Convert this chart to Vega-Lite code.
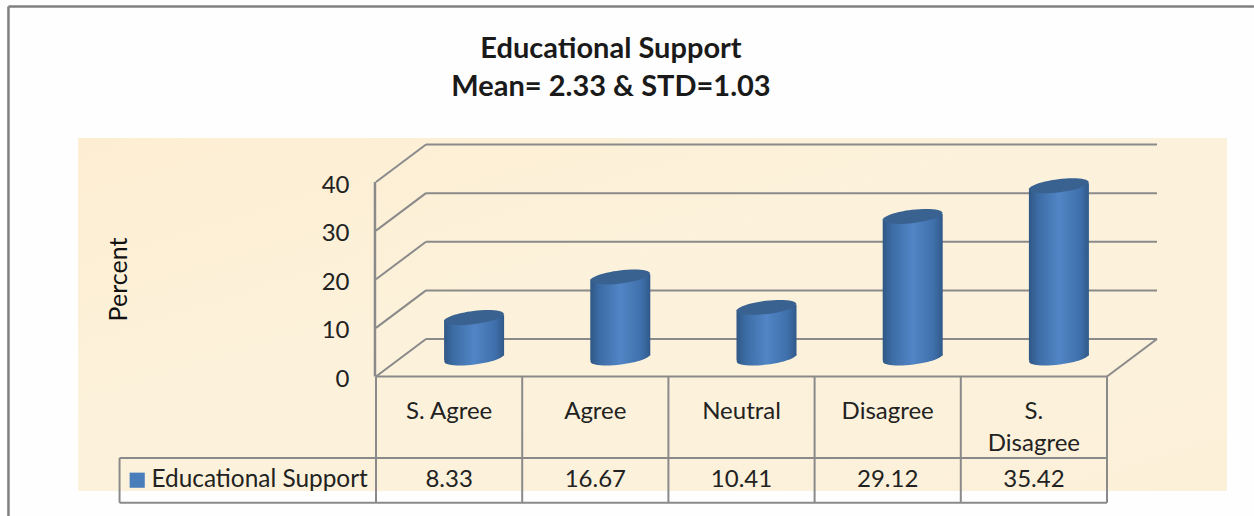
{
"$schema":"https://vega.github.io/schema/vega-lite/v6.json",
"width":1254,"height":516,"padding":0,"autosize":{"type":"none"},
"background":"#fefefe",
"view":{"stroke":null},
"title":{"text":["Educational Support","Mean= 2.33 & STD=1.03"],"font":"Lato","fontSize":29,"fontWeight":"bold","color":"#1a1a1a","lineHeight":38,"anchor":"middle","dx":-16,"offset":-131,"baseline":"bottom"},
"datasets":{
"answers":[
{"answer":"S. Agree","percent":8.33,"series":"Educational Support"},
{"answer":"Agree","percent":16.67,"series":"Educational Support"},
{"answer":"Neutral","percent":10.41,"series":"Educational Support"},
{"answer":"Disagree","percent":29.12,"series":"Educational Support"},
{"answer":"S. Disagree","percent":35.42,"series":"Educational Support"}],
"ticks":[{"tick":0},{"tick":10},{"tick":20},{"tick":30},{"tick":40}],
"cuts":[{"cut":0},{"cut":1},{"cut":2},{"cut":3},{"cut":4},{"cut":5}],
"one":[{"frame":1}]
},
"resolve":{"scale":{"x":"independent"},"axis":{"x":"independent","y":"independent"}},
"layer":[
{"data":{"name":"one"},"mark":{"type":"rect","fill":{"gradient":"linear","x1":0,"y1":0,"x2":1,"y2":1,"stops":[{"offset":0,"color":"#fdeed3"},{"offset":0.5,"color":"#fcf2dc"},{"offset":1,"color":"#fcf0d9"}]}},
 "encoding":{"x":{"datum":-2.038,"type":"quantitative","scale":{"type":"linear","domain":[0,5],"range":[376,1107]},"axis":null},"x2":{"datum":5.821},
 "y":{"datum":49.05,"type":"quantitative","scale":{"domain":[0,40],"range":[376.5,182],"nice":false,"zero":false},"axis":null},"y2":{"datum":-23.55}}},
{"data":{"name":"one"},"mark":{"type":"rule","color":"#808080","strokeWidth":2.5},
 "encoding":{"x":{"datum":-2.514,"type":"quantitative","scale":{"type":"linear","domain":[0,5],"range":[376,1107]},"axis":null},"x2":{"datum":6.005},"y":{"datum":76.07,"type":"quantitative","axis":null}}},
{"data":{"name":"one"},"mark":{"type":"rule","color":"#808080","strokeWidth":2.5},
 "encoding":{"x":{"datum":-2.514,"type":"quantitative","scale":{"type":"linear","domain":[0,5],"range":[376,1107]},"axis":null},"y":{"datum":76.07,"type":"quantitative","axis":null},"y2":{"datum":-28.69}}},
{"data":{"name":"ticks"},"mark":{"type":"rule","color":"#8a8a8a","strokeWidth":2,"yOffset":-37.5},
 "encoding":{"x":{"datum":0.342,"type":"quantitative","scale":{"type":"linear","domain":[0,5],"range":[376,1107]},"axis":null},"x2":{"datum":5.342},
 "y":{"field":"tick","type":"quantitative","axis":{"values":[0,10,20,30,40],"orient":"left","offset":-358,"zindex":1,"labelPadding":9,"labelOffset":3,"ticks":false,"domain":false,"grid":false,"labelFont":"Lato","labelFontSize":24,"labelColor":"#222222","title":"Percent","titleFont":"Lato","titleFontSize":25,"titleFontWeight":"normal","titleColor":"#111111","titleX":-227,"titleY":279,"titleAngle":-90}}}},
{"data":{"name":"one"},"mark":{"type":"rule","color":"#8a8a8a","strokeWidth":2},
 "encoding":{"x":{"datum":0,"type":"quantitative","scale":{"type":"linear","domain":[0,5],"range":[376,1107]},"axis":null},"x2":{"datum":0.342},"y":{"datum":0,"type":"quantitative","axis":null},"y2":{"datum":7.71}}},
{"data":{"name":"one"},"mark":{"type":"rule","color":"#8a8a8a","strokeWidth":2},
 "encoding":{"x":{"datum":0,"type":"quantitative","scale":{"type":"linear","domain":[0,5],"range":[376,1107]},"axis":null},"x2":{"datum":0.342},"y":{"datum":10,"type":"quantitative","axis":null},"y2":{"datum":17.71}}},
{"data":{"name":"one"},"mark":{"type":"rule","color":"#8a8a8a","strokeWidth":2},
 "encoding":{"x":{"datum":0,"type":"quantitative","scale":{"type":"linear","domain":[0,5],"range":[376,1107]},"axis":null},"x2":{"datum":0.342},"y":{"datum":20,"type":"quantitative","axis":null},"y2":{"datum":27.71}}},
{"data":{"name":"one"},"mark":{"type":"rule","color":"#8a8a8a","strokeWidth":2},
 "encoding":{"x":{"datum":0,"type":"quantitative","scale":{"type":"linear","domain":[0,5],"range":[376,1107]},"axis":null},"x2":{"datum":0.342},"y":{"datum":30,"type":"quantitative","axis":null},"y2":{"datum":37.71}}},
{"data":{"name":"one"},"mark":{"type":"rule","color":"#8a8a8a","strokeWidth":2},
 "encoding":{"x":{"datum":0,"type":"quantitative","scale":{"type":"linear","domain":[0,5],"range":[376,1107]},"axis":null},"x2":{"datum":0.342},"y":{"datum":40,"type":"quantitative","axis":null},"y2":{"datum":47.71}}},
{"data":{"name":"one"},"mark":{"type":"rule","color":"#8a8a8a","strokeWidth":2},
 "encoding":{"x":{"datum":5,"type":"quantitative","scale":{"type":"linear","domain":[0,5],"range":[376,1107]},"axis":null},"x2":{"datum":5.342},"y":{"datum":0,"type":"quantitative","axis":null},"y2":{"datum":7.71}}},
{"data":{"name":"one"},"mark":{"type":"rule","color":"#8a8a8a","strokeWidth":2.5},
 "encoding":{"x":{"datum":-0.007,"type":"quantitative","scale":{"type":"linear","domain":[0,5],"range":[376,1107]},"axis":null},"y":{"datum":0,"type":"quantitative","axis":null},"y2":{"datum":40}}},
{"data":{"name":"one"},"mark":{"type":"rule","color":"#8a8a8a","strokeWidth":2},
 "encoding":{"x":{"datum":0,"type":"quantitative","scale":{"type":"linear","domain":[0,5],"range":[376,1107]},"axis":null},"x2":{"datum":5},"y":{"datum":0,"type":"quantitative","axis":null}}},
{"data":{"name":"one"},"mark":{"type":"rule","color":"#8a8a8a","strokeWidth":2},
 "encoding":{"x":{"datum":-1.754,"type":"quantitative","scale":{"type":"linear","domain":[0,5],"range":[376,1107]},"axis":null},"x2":{"datum":5},"y":{"datum":-16.76,"type":"quantitative","axis":null}}},
{"data":{"name":"one"},"mark":{"type":"rule","color":"#8a8a8a","strokeWidth":2},
 "encoding":{"x":{"datum":-1.754,"type":"quantitative","scale":{"type":"linear","domain":[0,5],"range":[376,1107]},"axis":null},"x2":{"datum":5},"y":{"datum":-25.95,"type":"quantitative","axis":null}}},
{"data":{"name":"one"},"mark":{"type":"rule","color":"#8a8a8a","strokeWidth":2},
 "encoding":{"x":{"datum":-1.754,"type":"quantitative","scale":{"type":"linear","domain":[0,5],"range":[376,1107]},"axis":null},"y":{"datum":-16.76,"type":"quantitative","axis":null},"y2":{"datum":-25.95}}},
{"data":{"name":"cuts"},"mark":{"type":"rule","color":"#8a8a8a","strokeWidth":2},
 "encoding":{"x":{"field":"cut","type":"quantitative","scale":{"type":"linear","domain":[0,5],"range":[376,1107]},"axis":null},"y":{"datum":0,"type":"quantitative","axis":null},"y2":{"datum":-25.95}}},
{"data":{"name":"answers"},"mark":{"type":"text","font":"Lato","fontSize":24,"color":"#222222","baseline":"middle"},
 "encoding":{"x":{"field":"answer","type":"nominal","sort":null,"scale":{"type":"band","domain":["S. Agree","Agree","Neutral","Disagree","S. Disagree"],"range":[376,1107],"paddingInner":0,"paddingOuter":0},
 "axis":{"orient":"bottom","offset":-139.5,"zindex":1,"title":null,"ticks":false,"domain":false,"grid":false,"labelAngle":0,"labelPadding":23,"labelBaseline":"top","labelFont":"Lato","labelFontSize":24,"labelColor":"#222222","labelLineHeight":32,"labelExpr":"datum.label == 'S. Disagree' ? ['S.', 'Disagree'] : datum.label"}},
 "y":{"datum":-21.3,"type":"quantitative","axis":null},"text":{"field":"percent","type":"quantitative","format":".2f"}}},
{"data":{"name":"answers"},"mark":{"type":"point","filled":true,"opacity":1,"size":3600,"xOffset":25,"yOffset":-18.5,"shape":"M-.9925,.1219C-1.0073,.0013,-.575,-.1511,-.0268,-.2184C.5214,-.2857,.9777,-.2425,.9925,-.1219C1.0073,-.0013,.575,.1511,.0268,.2184C-.5214,.2857,-.9777,.2425,-.9925,.1219Z","fill":{"gradient":"linear","x1":0,"y1":0,"x2":1,"y2":0,"stops":[{"offset":0,"color":"#2f5785"},{"offset":0.15,"color":"#3c6ca4"},{"offset":0.5,"color":"#5285c6"},{"offset":0.85,"color":"#3f70ab"},{"offset":1,"color":"#31598a"}]}},
 "encoding":{"x":{"field":"answer","type":"nominal","sort":null,"scale":{"type":"band","domain":["S. Agree","Agree","Neutral","Disagree","S. Disagree"],"range":[376,1107],"paddingInner":0,"paddingOuter":0},"axis":null},"y":{"datum":0,"type":"quantitative","axis":null}}},
{"data":{"name":"answers"},"mark":{"type":"bar","width":40,"xOffset":25,"yOffset":-16.1,"y2Offset":-20.9},
 "encoding":{"x":{"field":"answer","type":"nominal","sort":null,"scale":{"type":"band","domain":["S. Agree","Agree","Neutral","Disagree","S. Disagree"],"range":[376,1107],"paddingInner":0,"paddingOuter":0},"axis":null},
 "y":{"field":"percent","type":"quantitative","stack":null,"axis":null},"y2":{"datum":0},
 "color":{"field":"series","type":"nominal","scale":{"range":["#4a7ebb"]},"legend":{"orient":"none","legendX":125,"legendY":468,"title":null,"symbolType":"square","symbolSize":230,"labelFont":"Lato","labelFontSize":24.4,"labelOffset":2,"labelColor":"#222222","labelLimit":300,"symbolStrokeWidth":0}}}},
{"data":{"name":"answers"},"mark":{"type":"bar","width":20,"xOffset":5,"yOffset":-16.1,"y2Offset":-16.1,"fill":{"gradient":"linear","x1":0,"y1":0,"x2":1,"y2":0,"stops":[{"offset":0,"color":"#2f5785"},{"offset":0.45,"color":"#3c6ca4"},{"offset":1,"color":"#4779b6"}]}},
 "encoding":{"x":{"field":"answer","type":"nominal","sort":null,"scale":{"type":"band","domain":["S. Agree","Agree","Neutral","Disagree","S. Disagree"],"range":[376,1107],"paddingInner":0,"paddingOuter":0},"axis":null},
 "y":{"field":"percent","type":"quantitative","stack":null,"axis":null},"y2":{"datum":0}}},
{"data":{"name":"answers"},"mark":{"type":"bar","width":20,"xOffset":25,"yOffset":-18.5,"y2Offset":-18.5,"fill":{"gradient":"linear","x1":0,"y1":0,"x2":1,"y2":0,"stops":[{"offset":0,"color":"#4779b6"},{"offset":0.5,"color":"#5285c6"},{"offset":1,"color":"#497bb9"}]}},
 "encoding":{"x":{"field":"answer","type":"nominal","sort":null,"scale":{"type":"band","domain":["S. Agree","Agree","Neutral","Disagree","S. Disagree"],"range":[376,1107],"paddingInner":0,"paddingOuter":0},"axis":null},
 "y":{"field":"percent","type":"quantitative","stack":null,"axis":null},"y2":{"datum":0}}},
{"data":{"name":"answers"},"mark":{"type":"bar","width":20,"xOffset":45,"yOffset":-20.9,"y2Offset":-20.9,"fill":{"gradient":"linear","x1":0,"y1":0,"x2":1,"y2":0,"stops":[{"offset":0,"color":"#497bb9"},{"offset":0.55,"color":"#3f70ab"},{"offset":1,"color":"#31598a"}]}},
 "encoding":{"x":{"field":"answer","type":"nominal","sort":null,"scale":{"type":"band","domain":["S. Agree","Agree","Neutral","Disagree","S. Disagree"],"range":[376,1107],"paddingInner":0,"paddingOuter":0},"axis":null},
 "y":{"field":"percent","type":"quantitative","stack":null,"axis":null},"y2":{"datum":0}}},
{"data":{"name":"answers"},"mark":{"type":"point","filled":true,"opacity":1,"size":3600,"xOffset":25,"yOffset":-18.5,"color":"#3a6291","shape":"M-.9925,.1219C-1.0073,.0013,-.575,-.1511,-.0268,-.2184C.5214,-.2857,.9777,-.2425,.9925,-.1219C1.0073,-.0013,.575,.1511,.0268,.2184C-.5214,.2857,-.9777,.2425,-.9925,.1219Z"},
 "encoding":{"x":{"field":"answer","type":"nominal","sort":null,"scale":{"type":"band","domain":["S. Agree","Agree","Neutral","Disagree","S. Disagree"],"range":[376,1107],"paddingInner":0,"paddingOuter":0},"axis":null},
 "y":{"field":"percent","type":"quantitative","axis":null}}}
]
}
